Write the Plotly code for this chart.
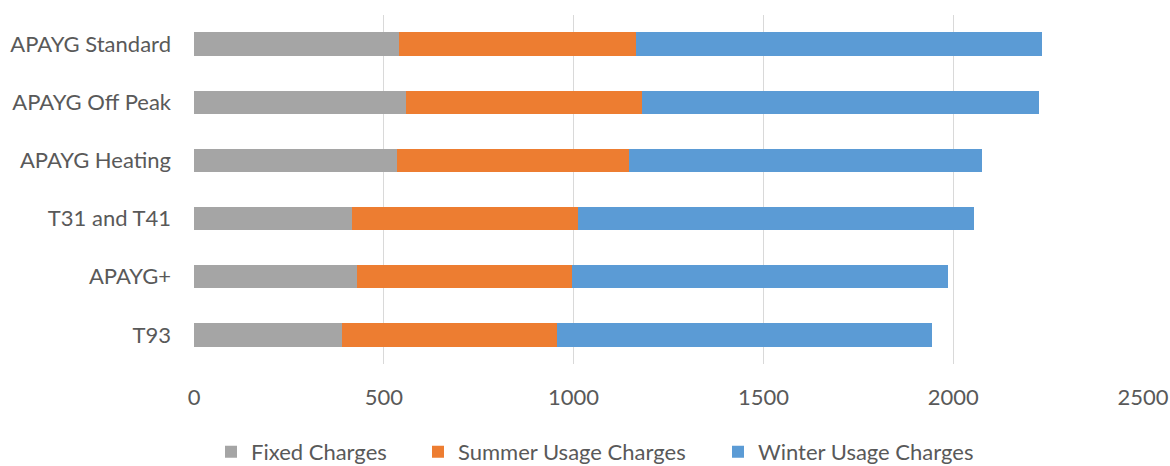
import plotly.graph_objects as go

categories = ["APAYG Standard", "APAYG Off Peak", "APAYG Heating", "T31 and T41", "APAYG+", "T93"]
fixed_charges = [541, 558, 536, 417, 430, 391]
summer_usage = [624, 623, 611, 594, 565, 564]
winter_usage = [1070, 1044, 929, 1043, 991, 990]
x_ticks = [0, 500, 1000, 1500, 2000, 2500]

series = [
    ("Fixed Charges", fixed_charges, "#A5A5A5", "legend"),
    ("Summer Usage Charges", summer_usage, "#ED7D31", "legend2"),
    ("Winter Usage Charges", winter_usage, "#5B9BD5", "legend3"),
]

fig = go.Figure()
for name, vals, color, lg in series:
    fig.add_trace(go.Bar(
        y=categories, x=vals, name=name, orientation="h",
        marker=dict(color=color, line=dict(width=0)),
        width=0.4, legend=lg,
    ))

font_family = "Lato, 'Open Sans', sans-serif"
W, H = 1170, 466
legend_common = dict(
    orientation="h", xref="container", xanchor="left",
    y=-0.252, yanchor="middle",
    font=dict(size=22, color="#595959"), bgcolor="rgba(0,0,0,0)",
)
legend_left_px = [211, 418, 718]

fig.update_layout(
    barmode="stack",
    width=W, height=H,
    margin=dict(l=194, r=27, t=15, b=102, autoexpand=False),
    paper_bgcolor="white", plot_bgcolor="white",
    font=dict(family=font_family, size=22, color="#595959"),
    showlegend=True,
    legend=dict(x=legend_left_px[0] / W, **legend_common),
    legend2=dict(x=legend_left_px[1] / W, **legend_common),
    legend3=dict(x=legend_left_px[2] / W, **legend_common),
    xaxis=dict(
        range=[0, 2500], tickvals=x_ticks, ticktext=[str(v) for v in x_ticks],
        showgrid=True, gridcolor="#D9D9D9", gridwidth=1,
        zeroline=False, showline=False, ticks="", ticklabelstandoff=18,
        automargin=False,
    ),
    yaxis=dict(
        categoryorder="array", categoryarray=categories, autorange="reversed",
        showgrid=False, zeroline=False, showline=False, ticks="",
        ticklabelstandoff=22, automargin=False,
    ),
)

fig.write_html(
    "out.html",
    config={"displayModeBar": False},
    post_script="document.body.style.margin='0';",
)
